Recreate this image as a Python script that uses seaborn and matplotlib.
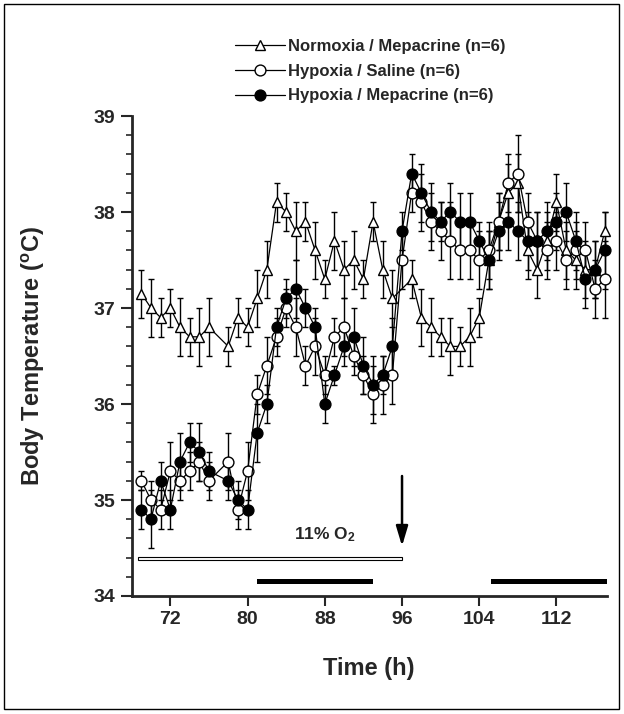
import numpy as np
import pandas as pd
import matplotlib
matplotlib.use("Agg")
import matplotlib.pyplot as plt
import seaborn as sns
from matplotlib.lines import Line2D
from matplotlib.patches import Rectangle

# ---------------- data ----------------
hours = [69, 70, 71, 72, 73, 74, 75, 76, 78, 79, 80, 81, 82, 83, 84, 85, 86, 87,
         88, 89, 90, 91, 92, 93, 94, 95, 96, 97, 98, 99, 100, 101, 102, 103, 104,
         105, 106, 107, 108, 109, 110, 111, 112, 113, 114, 115, 116, 117]

normoxia_mep = [37.15, 37.0, 36.9, 37.0, 36.8, 36.7, 36.7, 36.8, 36.6, 36.9, 36.8,
                37.1, 37.4, 38.1, 38.0, 37.8, 37.9, 37.6, 37.3, 37.7, 37.4, 37.5,
                37.3, 37.9, 37.4, 37.1, np.nan, 37.3, 36.9, 36.8, 36.7, 36.6, 36.6,
                36.7, 36.9, 37.5, 37.9, 38.2, 38.3, 37.6, 37.4, 37.7, 38.1, 37.6,
                37.5, 37.4, 37.4, 37.8]
normoxia_mep_sem = [0.25, 0.3, 0.2, 0.2, 0.3, 0.2, 0.3, 0.3, 0.2, 0.2, 0.2, 0.3,
                    0.3, 0.2, 0.2, 0.3, 0.2, 0.3, 0.2, 0.3, 0.3, 0.3, 0.2, 0.2,
                    0.3, 0.3, np.nan, 0.2, 0.3, 0.3, 0.2, 0.3, 0.2, 0.3, 0.2, 0.3,
                    0.3, 0.3, 0.3, 0.3, 0.3, 0.3, 0.3, 0.3, 0.3, 0.3, 0.3, 0.2]

hypoxia_sal = [35.2, 35.0, 34.9, 35.3, 35.2, 35.3, 35.4, 35.2, 35.4, 34.9, 35.3,
               36.1, 36.4, 36.7, 37.0, 36.8, 36.4, 36.6, 36.3, 36.7, 36.8, 36.5,
               36.3, 36.1, 36.2, 36.3, 37.5, 38.2, 38.1, 37.9, 37.8, 37.7, 37.6,
               37.6, 37.5, 37.6, 37.9, 38.3, 38.4, 37.9, 37.7, 37.6, 37.7, 37.5,
               37.6, 37.6, 37.2, 37.3]
hypoxia_sal_sem = [0.1, 0.2, 0.2, 0.3, 0.2, 0.2, 0.2, 0.2, 0.3, 0.2, 0.3, 0.2,
                   0.3, 0.2, 0.2, 0.3, 0.2, 0.3, 0.2, 0.2, 0.3, 0.2, 0.2, 0.3,
                   0.3, 0.3, 0.3, 0.2, 0.3, 0.3, 0.3, 0.4, 0.3, 0.3, 0.3, 0.3,
                   0.3, 0.3, 0.4, 0.3, 0.3, 0.3, 0.3, 0.3, 0.3, 0.3, 0.3, 0.4]

hypoxia_mep = [34.9, 34.8, 35.2, 34.9, 35.4, 35.6, 35.5, 35.3, 35.2, 35.0, 34.9,
               35.7, 36.0, 36.8, 37.1, 37.2, 37.0, 36.8, 36.0, 36.3, 36.6, 36.7,
               36.4, 36.2, 36.3, 36.6, 37.8, 38.4, 38.2, 38.0, 37.9, 38.0, 37.9,
               37.9, 37.7, 37.5, 37.8, 37.9, 37.8, 37.7, 37.7, 37.8, 37.9, 38.0,
               37.7, 37.3, 37.4, 37.6]
hypoxia_mep_sem = [0.2, 0.3, 0.2, 0.2, 0.3, 0.2, 0.3, 0.2, 0.2, 0.2, 0.2, 0.3,
                   0.2, 0.2, 0.2, 0.3, 0.2, 0.2, 0.2, 0.1, 0.2, 0.3, 0.3, 0.3,
                   0.2, 0.3, 0.2, 0.2, 0.3, 0.3, 0.2, 0.3, 0.3, 0.3, 0.2, 0.3,
                   0.3, 0.3, 0.3, 0.3, 0.3, 0.3, 0.3, 0.3, 0.3, 0.3, 0.3, 0.4]

labels = ["Normoxia / Mepacrine (n=6)", "Hypoxia / Saline (n=6)",
          "Hypoxia / Mepacrine (n=6)"]
x_ticks = [72, 80, 88, 96, 104, 112]
y_ticks = [34, 35, 36, 37, 38, 39]
hypoxia_period = (68.7, 96.0)
dark_periods = [(81.0, 93.0), (105.2, 117.2)]
arrow_time = 96
o2_label = "11% O$_\\mathbf{2}$"

# ---------------- styling ----------------
sns.set_style("ticks")
plt.rcParams["font.family"] = ["Liberation Sans", "DejaVu Sans"]
plt.rcParams["font.weight"] = "bold"
plt.rcParams["mathtext.fontset"] = "custom"
plt.rcParams["mathtext.rm"] = "Liberation Sans:bold"
plt.rcParams["mathtext.bf"] = "Liberation Sans:bold"
plt.rcParams["mathtext.it"] = "Liberation Sans:bold"

fig = plt.figure(figsize=(6.24, 7.14), dpi=100)
ax = fig.add_axes([131.7 / 624, 1 - 596 / 714, 475 / 624, 480 / 714])

series = [
    (normoxia_mep, normoxia_mep_sem, "^", "white", 3),
    (hypoxia_sal, hypoxia_sal_sem, "o", "white", 4),
    (hypoxia_mep, hypoxia_mep_sem, "o", "black", 5),
]

for (vals, sem, mk, fc, z), lab in zip(series, labels):
    d = pd.DataFrame({"Time": hours, "Temp": vals, "SEM": sem}).dropna()
    ax.errorbar(d["Time"], d["Temp"], yerr=d["SEM"], fmt="none", ecolor="black",
                elinewidth=1.0, capsize=2, capthick=1.0, zorder=1.5, clip_on=False)
    sns.lineplot(data=d, x="Time", y="Temp", ax=ax, color="black", lw=0.9,
                 marker=mk, markersize=7.8, markerfacecolor=fc,
                 markeredgecolor="black", markeredgewidth=1.0, zorder=z,
                 clip_on=False, errorbar=None, estimator=None)

# annotations
ax.add_patch(Rectangle((hypoxia_period[0], 34.378), hypoxia_period[1] - hypoxia_period[0],
                       0.028, facecolor="white", edgecolor="black", lw=0.8, zorder=2))
for a, b in dark_periods:
    ax.add_patch(Rectangle((a, 34.125), b - a, 0.05, facecolor="black",
                           edgecolor="black", lw=0, zorder=2, clip_on=False))
ax.annotate("", xy=(arrow_time, 34.52), xytext=(arrow_time, 35.25),
            arrowprops=dict(arrowstyle="-|>,head_length=0.6,head_width=0.18",
                            lw=1.8, color="black", mutation_scale=20,
                            shrinkA=0, shrinkB=0))
ax.text(88, 34.64, o2_label, ha="center", va="center", fontsize=12.5,
        fontweight="bold")

# axes
ax.set_xlim(68, 117.2)
ax.set_ylim(34, 39)
ax.set_xticks(x_ticks)
ax.set_yticks(y_ticks)
ax.set_yticks(np.arange(34, 39.01, 0.2), minor=True)
ax.tick_params(axis="both", which="major", labelsize=14, width=1.5, direction="out")
ax.tick_params(axis="y", which="major", length=8, pad=4)
ax.tick_params(axis="x", which="major", length=7, pad=4)
ax.tick_params(axis="y", which="minor", length=4, width=1.2)
for lab in ax.get_xticklabels() + ax.get_yticklabels():
    lab.set_fontweight("bold")
sns.despine(ax=ax)
for s in ["left", "bottom"]:
    ax.spines[s].set_linewidth(2.0)

ax.set_xlabel("Time (h)", fontsize=17, fontweight="bold")
ax.set_ylabel("Body Temperature ($^\\mathbf{o}$C)", fontsize=17, fontweight="bold")
ax.xaxis.set_label_coords(0.5, (596 - 657) / 480)
ax.yaxis.set_label_coords((47 - 131.7) / 475, 0.5)

# legend
handles = [Line2D([], [], color="black", lw=0.9, marker=mk, markersize=7.8,
                  markerfacecolor=fc, markeredgecolor="black", markeredgewidth=1.0)
           for (_, _, mk, fc, _) in series]
leg = fig.legend(handles, labels, loc="upper left",
                 bbox_to_anchor=(235 / 624, 1 - 39 / 714),
                 frameon=False, prop={"weight": "bold", "size": 12},
                 handlelength=3.0, handletextpad=0.2, labelspacing=0.58,
                 borderpad=0, borderaxespad=0)

# figure frame
fig.add_artist(Rectangle((4 / 624, 5 / 714), 615 / 624, 705 / 714,
                         transform=fig.transFigure, fill=False, lw=1.0,
                         edgecolor="black"))

fig.savefig("out.png", dpi=100)
